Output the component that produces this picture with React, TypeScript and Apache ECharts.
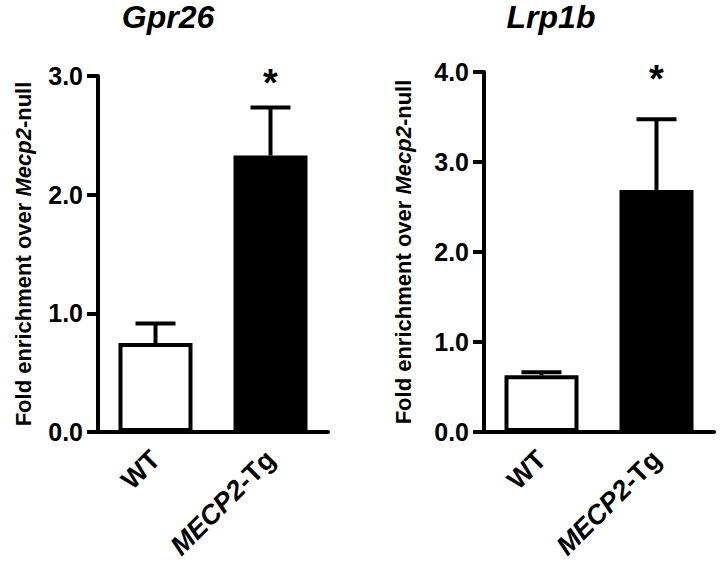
import React, { useEffect, useRef } from "react";
import * as echarts from "echarts";

const categories = ["WT", "MECP2-Tg"];
const gpr26Mean = [0.75, 2.33];
const gpr26Sem = [0.165, 0.405];
const lrp1bMean = [0.63, 2.69];
const lrp1bSem = [0.035, 0.785];
const gpr26Ticks = { min: 0, max: 3, interval: 1 };
const lrp1bTicks = { min: 0, max: 4, interval: 1 };
// significance star positions (category index, y in data units)
const gpr26Star = [[1, 3.02]];
const lrp1bStar = [[1, 4.02]];
const titles = ["Gpr26", "Lrp1b"];

const FONT = "'Liberation Sans', Arial, Helvetica, sans-serif";

export default function App() {
  const ref = useRef<HTMLDivElement>(null);
  useEffect(() => {
    if (!ref.current) return;
    const chart = echarts.init(ref.current, undefined, { renderer: "svg" });

    const errRender = (params: any, api: any) => {
      const x = api.value(0);
      const m = api.value(1);
      const e = api.value(2);
      const base = api.coord([x, m]);
      const top = api.coord([x, m + e]);
      const half = 20;
      return {
        type: "group",
        children: [
          {
            type: "line",
            shape: { x1: base[0], y1: base[1], x2: top[0], y2: top[1] },
            style: { stroke: "#000", lineWidth: 4 },
          },
          {
            type: "line",
            shape: { x1: top[0] - half, y1: top[1], x2: top[0] + half, y2: top[1] },
            style: { stroke: "#000", lineWidth: 4 },
          },
        ],
      };
    };
    const starRender = (params: any, api: any) => {
      const p = api.coord([api.value(0), api.value(1)]);
      return {
        type: "text",
        x: p[0],
        y: p[1] + 9,
        style: {
          text: "*",
          fontSize: 38,
          fontWeight: "bold",
          fontFamily: FONT,
          fill: "#000",
          align: "center",
          verticalAlign: "middle",
        },
      };
    };

    const xAxisBase = (gi: number) => ({
      type: "category",
      gridIndex: gi,
      data: categories,
      axisLine: { lineStyle: { color: "#000", width: 4 } },
      axisTick: { alignWithLabel: true, length: 13, lineStyle: { color: "#000", width: 4 } },
      axisLabel: {
        rotate: 45,
        margin: 23,
        fontSize: 27,
        fontWeight: "bold",
        fontFamily: FONT,
        color: "#000",
        formatter: (v: string) => (v === "MECP2-Tg" ? "{i|MECP2}-Tg" : v),
        rich: {
          i: { fontSize: 27, fontWeight: "bold", fontStyle: "italic", fontFamily: FONT, color: "#000" },
        },
      },
    });
    const yAxisBase = (gi: number, t: any, gap: number) => ({
      type: "value",
      gridIndex: gi,
      min: t.min,
      max: t.max,
      interval: t.interval,
      splitLine: { show: false },
      axisLine: { show: true, lineStyle: { color: "#000", width: 4 } },
      axisTick: { show: true, length: 11, lineStyle: { color: "#000", width: 4 } },
      axisLabel: {
        margin: 15,
        fontSize: 25,
        fontWeight: "bold",
        fontFamily: FONT,
        color: "#000",
        formatter: (v: number) => v.toFixed(1),
      },
      name: "Fold enrichment over {i|Mecp2}-null",
      nameLocation: "middle",
      nameRotate: 90,
      nameGap: gap,
      nameTextStyle: {
        fontSize: 22,
        fontWeight: "bold",
        fontFamily: FONT,
        color: "#000",
        rich: {
          i: { fontSize: 22, fontWeight: "bold", fontStyle: "italic", fontFamily: FONT, color: "#000" },
        },
      },
    });

    const barSeries = (gi: number, means: number[]) => ({
      type: "bar",
      xAxisIndex: gi,
      yAxisIndex: gi,
      barWidth: 74,
      data: means.map((v, i) => ({
        value: v,
        itemStyle: { color: i === 0 ? "#fff" : "#000", borderColor: "#000", borderWidth: 4 },
      })),
    });
    const errSeries = (gi: number, means: number[], sems: number[]) => ({
      type: "custom",
      xAxisIndex: gi,
      yAxisIndex: gi,
      renderItem: errRender,
      data: means.map((m, i) => [i, m, sems[i]]),
      z: 3,
    });
    const starSeries = (gi: number, d: number[][]) => ({
      type: "custom",
      xAxisIndex: gi,
      yAxisIndex: gi,
      renderItem: starRender,
      data: d,
      z: 4,
    });

    const titleStyle = {
      fontSize: 32,
      fontWeight: "bold",
      fontStyle: "italic",
      fontFamily: FONT,
      color: "#000",
    };

    chart.setOption({
      animation: false,
      backgroundColor: "#fff",
      title: [
        { text: titles[0], left: 168, top: 1, padding: 0, textAlign: "center", textStyle: titleStyle },
        { text: titles[1], left: 551, top: 1, padding: 0, textAlign: "center", textStyle: titleStyle },
      ],
      grid: [
        { left: 98, width: 230, top: 76, bottom: 134 },
        { left: 484, width: 230, top: 72, bottom: 134 },
      ],
      xAxis: [xAxisBase(0), xAxisBase(1)],
      yAxis: [yAxisBase(0, gpr26Ticks, 64), yAxisBase(1, lrp1bTicks, 70)],
      series: [
        barSeries(0, gpr26Mean),
        errSeries(0, gpr26Mean, gpr26Sem),
        starSeries(0, gpr26Star),
        barSeries(1, lrp1bMean),
        errSeries(1, lrp1bMean, lrp1bSem),
        starSeries(1, lrp1bStar),
      ],
    });
    return () => chart.dispose();
  }, []);
  return (
    <div
      ref={ref}
      style={{ position: "fixed", left: 0, top: 0, width: 720, height: 566 }}
    />
  );
}
